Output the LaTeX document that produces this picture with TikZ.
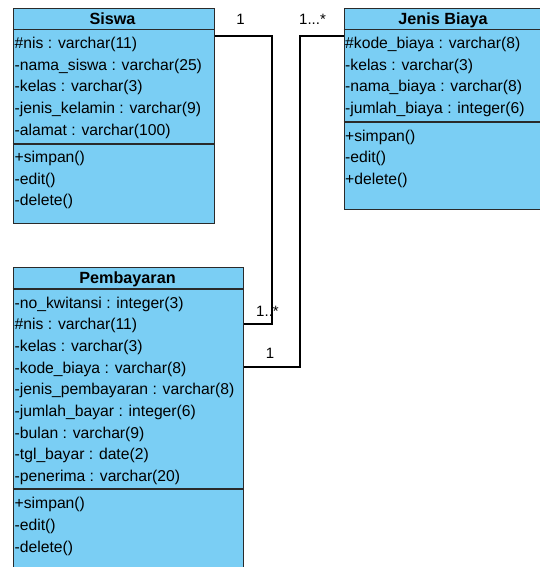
\documentclass[tikz,border=0pt]{standalone}
\usepackage{fontspec}
\setmainfont{Liberation Sans}
\definecolor{umlfill}{HTML}{7ACEF4}
\definecolor{umlline}{HTML}{2A2A2A}
\begin{document}
\begin{tikzpicture}[x=1pt,y=-1pt,
  classbox/.style={draw=umlline,line width=1.4pt,fill=umlfill,rectangle,anchor=north west,inner sep=0pt},
  sepline/.style={draw=umlline,line width=1.2pt},
  attr/.style={anchor=base west,inner sep=0pt,font=\fontsize{15.7}{18}\selectfont},
  title/.style={anchor=base,inner sep=0pt,font=\fontsize{16.2}{18}\selectfont\bfseries},
  mult/.style={anchor=base,inner sep=0pt,font=\fontsize{15}{18}\selectfont},
  conn/.style={draw=black,line width=1.2pt}]
\useasboundingbox (0,0) rectangle (540,567);
\clip (0,0) rectangle (540,567);
% boxes
\node[classbox,minimum width=201pt,minimum height=215pt] (siswa) at (12.5,8) {};
\node[classbox,minimum width=210pt,minimum height=200.5pt] (biaya) at (343.5,8) {};
\node[classbox,minimum width=230pt,minimum height=310pt] (pemb) at (12.5,267) {};
% separators
\draw[sepline] (siswa.west |- 0,29.5) -- (siswa.east |- 0,29.5);
\draw[sepline] (siswa.west |- 0,144) -- (siswa.east |- 0,144);
\draw[sepline] (biaya.west |- 0,29.5) -- (biaya.east |- 0,29.5);
\draw[sepline] (biaya.west |- 0,122) -- (biaya.east |- 0,122);
\draw[sepline] (pemb.west |- 0,289) -- (pemb.east |- 0,289);
\draw[sepline] (pemb.west |- 0,489) -- (pemb.east |- 0,489);
% titles
\node[title] (tsiswa) at (112.5,24.5) {Siswa};
\node[title] (tbiaya) at (443,24.5) {Jenis Biaya};
\node[title] (tpemb) at (127.5,283.5) {Pembayaran};
% Siswa
\node[attr] (s1) at (14.5,48.5) {\#nis : varchar(11)};
\node[attr] (s2) at (14.5,70.2) {-nama\_siswa : varchar(25)};
\node[attr] (s3) at (14.5,91.9) {-kelas : varchar(3)};
\node[attr] (s4) at (14.5,113.6) {-jenis\_kelamin : varchar(9)};
\node[attr] (s5) at (14.5,135.3) {-alamat : varchar(100)};
\node[attr] (s6) at (14.5,162.5) {+simpan()};
\node[attr] (s7) at (14.5,184.2) {-edit()};
\node[attr] (s8) at (14.5,205.9) {-delete()};
% Jenis Biaya
\node[attr] (b1) at (345,48.5) {\#kode\_biaya : varchar(8)};
\node[attr] (b2) at (345,70.2) {-kelas : varchar(3)};
\node[attr] (b3) at (345,91.9) {-nama\_biaya : varchar(8)};
\node[attr] (b4) at (345,113.6) {-jumlah\_biaya : integer(6)};
\node[attr] (b5) at (345,141) {+simpan()};
\node[attr] (b6) at (345,162.7) {-edit()};
\node[attr] (b7) at (345,184.4) {+delete()};
% Pembayaran
\node[attr] (p1) at (14.5,308) {-no\_kwitansi : integer(3)};
\node[attr] (p2) at (14.5,329.7) {\#nis : varchar(11)};
\node[attr] (p3) at (14.5,351.4) {-kelas : varchar(3)};
\node[attr] (p4) at (14.5,373.1) {-kode\_biaya : varchar(8)};
\node[attr] (p5) at (14.5,394.8) {-jenis\_pembayaran : varchar(8)};
\node[attr] (p6) at (14.5,416.5) {-jumlah\_bayar : integer(6)};
\node[attr] (p7) at (14.5,438.2) {-bulan : varchar(9)};
\node[attr] (p8) at (14.5,459.9) {-tgl\_bayar : date(2)};
\node[attr] (p9) at (14.5,481.6) {-penerima : varchar(20)};
\node[attr] (p10) at (14.5,508.8) {+simpan()};
\node[attr] (p11) at (14.5,530.5) {-edit()};
\node[attr] (p12) at (14.5,552.2) {-delete()};
% connectors
\draw[conn] (siswa.east |- 0,36) -- (272,36) |- (pemb.east |- 0,324);
\draw[conn] (biaya.west |- 0,36) -- (300,36) |- (pemb.east |- 0,367);
% multiplicities
\node[mult] (m1) at (240.5,25) {1};
\node[mult] (m2) at (312.5,25) {1...*};
\node[mult] (m3) at (267.5,316) {1..*};
\node[mult] (m4) at (270,358.5) {1};
\end{tikzpicture}
\end{document}
